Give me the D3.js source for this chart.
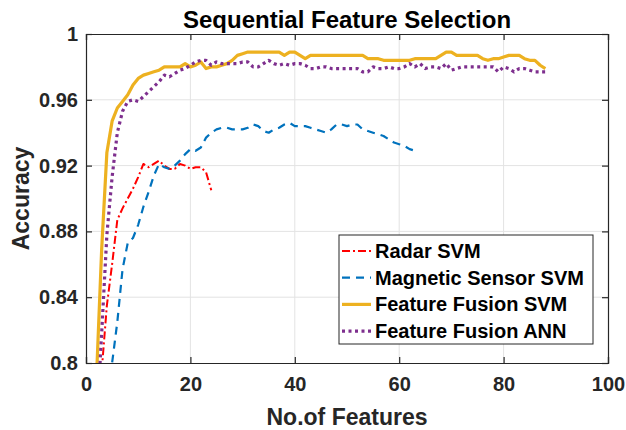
<!DOCTYPE html>
<html lang="en">
<head>
    <meta charset="UTF-8">
    <title>Sequential Feature Selection</title>
    <script src="https://cdnjs.cloudflare.com/ajax/libs/d3/7.8.5/d3.min.js"></script>
    <style>
        body { margin: 0; background: #fff; }
        text { font-family: "Liberation Sans", Arial, Helvetica, sans-serif; font-weight: bold; fill: #262626; }
    </style>
</head>
<body>
    <div id="chart"></div>
    <script>
        var radarStart = 3;
        var radarSVM = [0.795, 0.835, 0.860, 0.887, 0.894, 0.900, 0.906, 0.913, 0.921, 0.919,
            0.921, 0.923, 0.920, 0.918, 0.918, 0.921, 0.920, 0.918, 0.919, 0.919, 0.916, 0.905];

        var magStart = 4;
        var magneticSVM = [0.775, 0.800, 0.825, 0.857, 0.873, 0.876, 0.884, 0.895, 0.904, 0.914,
            0.921, 0.919, 0.918, 0.920, 0.923, 0.927, 0.930, 0.929, 0.931, 0.937,
            0.940, 0.942, 0.943, 0.943, 0.942, 0.942, 0.942, 0.943, 0.945, 0.944,
            0.941, 0.940, 0.942, 0.943, 0.945, 0.946, 0.944, 0.944, 0.944, 0.943,
            0.942, 0.941, 0.940, 0.942, 0.945, 0.945, 0.944, 0.945, 0.945, 0.942,
            0.941, 0.940, 0.939, 0.938, 0.936, 0.934, 0.933, 0.932, 0.930, 0.929];

        var fusionStart = 2;
        var fusionSVM = [0.790, 0.869, 0.928, 0.947, 0.955, 0.959, 0.963, 0.969, 0.973, 0.975,
            0.976, 0.977, 0.978, 0.980, 0.980, 0.980, 0.980, 0.982, 0.980, 0.981,
            0.983, 0.979, 0.980, 0.980, 0.981, 0.982, 0.984, 0.987, 0.988, 0.989,
            0.989, 0.989, 0.989, 0.989, 0.989, 0.989, 0.987, 0.989, 0.989, 0.987,
            0.985, 0.987, 0.987, 0.987, 0.987, 0.987, 0.987, 0.987, 0.987, 0.987,
            0.987, 0.987, 0.985, 0.985, 0.985, 0.984, 0.984, 0.984, 0.984, 0.984,
            0.984, 0.985, 0.985, 0.985, 0.985, 0.985, 0.987, 0.989, 0.989, 0.987,
            0.987, 0.987, 0.987, 0.987, 0.985, 0.984, 0.985, 0.985, 0.986, 0.987,
            0.987, 0.987, 0.985, 0.984, 0.984, 0.981, 0.979];

        var fusionANN = [0.760, 0.818, 0.878, 0.913, 0.940, 0.953, 0.959, 0.960, 0.959, 0.962,
            0.965, 0.968, 0.971, 0.975, 0.974, 0.976, 0.978, 0.979, 0.981, 0.983,
            0.984, 0.984, 0.981, 0.983, 0.982, 0.982, 0.982, 0.982, 0.983, 0.983,
            0.980, 0.980, 0.982, 0.984, 0.982, 0.981, 0.982, 0.981, 0.982, 0.982,
            0.981, 0.979, 0.979, 0.980, 0.980, 0.979, 0.979, 0.979, 0.979, 0.979,
            0.979, 0.977, 0.977, 0.980, 0.979, 0.979, 0.980, 0.979, 0.979, 0.980,
            0.982, 0.980, 0.982, 0.979, 0.980, 0.980, 0.979, 0.982, 0.978, 0.979,
            0.980, 0.980, 0.980, 0.980, 0.980, 0.980, 0.980, 0.977, 0.980, 0.979,
            0.977, 0.979, 0.979, 0.978, 0.977, 0.977, 0.977];

        var xTicks = [0, 20, 40, 60, 80, 100];
        var yTicks = [0.8, 0.84, 0.88, 0.92, 0.96, 1];
        var yTickLabels = ["0.8", "0.84", "0.88", "0.92", "0.96", "1"];

        var series = [
            { label: "Radar SVM", start: radarStart, values: radarSVM, color: "#ff0000", width: 2, dash: "8,3,2,3" },
            { label: "Magnetic Sensor SVM", start: magStart, values: magneticSVM, color: "#0072bd", width: 2.2, dash: "8,6" },
            { label: "Feature Fusion SVM", start: fusionStart, values: fusionSVM, color: "#edb120", width: 3.2, dash: null },
            { label: "Feature Fusion ANN", start: fusionStart, values: fusionANN, color: "#7e2f8e", width: 3.2, dash: "3,3.5" }
        ];

        var width = 626, height = 430;
        var margin = { top: 34, right: 18, bottom: 67, left: 86 };
        var innerW = width - margin.left - margin.right;
        var innerH = height - margin.top - margin.bottom;

        var svg = d3.select("#chart").append("svg")
            .attr("width", width)
            .attr("height", height);

        var x = d3.scaleLinear().domain([0, 100]).range([0, innerW]);
        var y = d3.scaleLinear().domain([0.8, 1]).range([innerH, 0]);

        var g = svg.append("g").attr("transform", "translate(" + margin.left + "," + margin.top + ")");

        svg.append("defs").append("clipPath").attr("id", "clip")
            .append("rect").attr("width", innerW).attr("height", innerH);

        // grid
        g.append("g").selectAll("line.gx").data(xTicks.slice(1, -1)).enter().append("line")
            .attr("x1", d => x(d)).attr("x2", d => x(d))
            .attr("y1", 0).attr("y2", innerH)
            .attr("stroke", "#e3e3e3").attr("stroke-width", 1);
        g.append("g").selectAll("line.gy").data(yTicks.slice(1, -1)).enter().append("line")
            .attr("x1", 0).attr("x2", innerW)
            .attr("y1", d => y(d)).attr("y2", d => y(d))
            .attr("stroke", "#e3e3e3").attr("stroke-width", 1);

        // curves
        var line = d3.line()
            .x(d => x(d[0]))
            .y(d => y(d[1]));

        var curves = g.append("g").attr("clip-path", "url(#clip)");
        series.forEach(function (s) {
            var pts = s.values.map((v, i) => [s.start + i, v]);
            curves.append("path")
                .datum(pts)
                .attr("d", line)
                .attr("fill", "none")
                .attr("stroke", s.color)
                .attr("stroke-width", s.width)
                .attr("stroke-dasharray", s.dash)
                .attr("stroke-linejoin", "round");
        });

        // axes
        var tickLen = 6;
        var xAxis = d3.axisBottom(x).tickValues(xTicks).tickSize(-tickLen).tickPadding(14);
        var yAxis = d3.axisLeft(y).tickValues(yTicks).tickSize(-tickLen).tickPadding(8)
            .tickFormat((d, i) => yTickLabels[i]);

        var gx = g.append("g").attr("transform", "translate(0," + innerH + ")").call(xAxis);
        var gy = g.append("g").call(yAxis);
        g.append("g").call(d3.axisTop(x).tickValues(xTicks).tickSize(-tickLen).tickFormat(""));
        g.append("g").attr("transform", "translate(" + innerW + ",0)")
            .call(d3.axisRight(y).tickValues(yTicks).tickSize(-tickLen).tickFormat(""));

        g.selectAll(".domain").attr("stroke", "#262626").attr("stroke-width", 1.2);
        g.selectAll(".tick line").attr("stroke", "#262626").attr("stroke-width", 1.2);
        gx.selectAll("text").attr("font-size", 20).attr("fill", "#262626");
        gy.selectAll("text").attr("font-size", 20).attr("fill", "#262626");

        svg.append("text")
            .attr("x", margin.left + innerW / 2)
            .attr("y", 28)
            .attr("text-anchor", "middle")
            .attr("font-size", 24)
            .style("fill", "#000")
            .text("Sequential Feature Selection");

        svg.append("text")
            .attr("x", margin.left + innerW / 2)
            .attr("y", 425)
            .attr("text-anchor", "middle")
            .attr("font-size", 23)
            .text("No.of Features");

        svg.append("text")
            .attr("transform", "translate(29," + (margin.top + innerH / 2) + ") rotate(-90)")
            .attr("text-anchor", "middle")
            .attr("font-size", 23)
            .text("Accuracy");

        // legend
        var legend = svg.append("g").attr("transform", "translate(339,235)");
        legend.append("rect")
            .attr("width", 254).attr("height", 109)
            .attr("fill", "#fff")
            .attr("stroke", "#262626").attr("stroke-width", 1);

        var items = legend.selectAll("g.item").data(series).enter().append("g")
            .attr("transform", (d, i) => "translate(0," + (16 + i * 26.7) + ")");
        items.append("line")
            .attr("x1", 3).attr("x2", 32)
            .attr("y1", 0).attr("y2", 0)
            .attr("stroke", d => d.color)
            .attr("stroke-width", d => d.width)
            .attr("stroke-dasharray", d => d.dash);
        items.append("text")
            .attr("x", 36)
            .attr("y", 7)
            .attr("font-size", 20)
            .style("fill", "#000")
            .text(d => d.label);
    </script>
</body>
</html>
